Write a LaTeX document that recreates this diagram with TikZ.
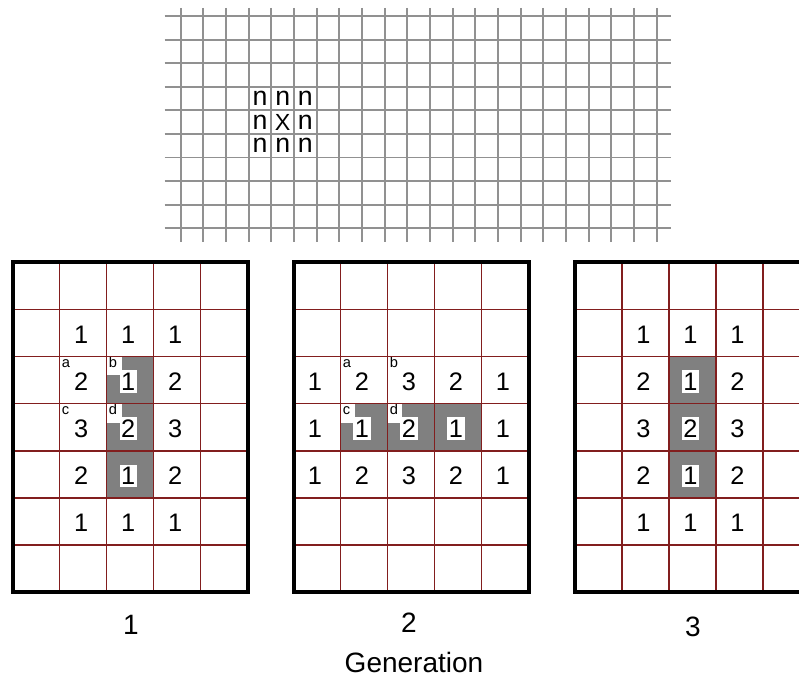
\documentclass[tikz,border=0pt]{standalone}
\usepackage{fontspec}
\setmainfont{Liberation Sans}
\definecolor{gridred}{RGB}{130,30,30}
\definecolor{topgray}{RGB}{145,145,145}
\definecolor{shadegray}{RGB}{128,128,128}
\tikzset{
  topline/.style={draw=topgray, line width=1.4pt},
  redline/.style={draw=gridred, line width=1.1pt},
  border/.style={draw=black, line width=3pt},
  nlet/.style={font=\fontsize{20}{22}\selectfont, inner sep=0pt},
  xlet/.style={font=\fontsize{17.5}{19}\selectfont, inner sep=0pt},
  dig/.style={font=\fontsize{19}{21}\selectfont, inner sep=0pt},
  wdig/.style={dig, fill=white, inner xsep=1.2pt, inner ysep=2pt},
  lett/.style={font=\fontsize{11}{12}\selectfont, fill=white, anchor=north west,
    text width=8pt, align=left, inner xsep=1.5pt, inner ysep=1.2pt,
    text height=7pt, text depth=4.5pt},
  lab/.style={font=\fontsize{21}{24}\selectfont, inner sep=0pt}
}
\newcommand\mydig[6]{\node[#6] (#5) at ({#1+47*(#3+0.5)-2},{262.3+47.14*(#2+0.5)+1.5}) {#4};}
\newcommand\mylet[5]{\node[lett] (#5) at ({#1+47*#3},{262.3+47.14*#2}) {#4};}
\begin{document}
\begin{tikzpicture}[x=0.75pt,y=-0.75pt]
\useasboundingbox (0,0) rectangle (799,677);
\clip (0,0) rectangle (799,677);
% top grid
\foreach \ii in {0,...,21} \draw[topline] ({180.7+22.667*\ii},8) -- ({180.7+22.667*\ii},241.7);
\foreach \jj in {0,...,9} \draw[topline] (164.7,{16+23.59*\jj}) -- (671,{16+23.59*\jj});
\foreach \rr/\cc in {0/0,0/1,0/2,1/0,1/2,2/0,2/1,2/2}
  \node[nlet] (n\rr\cc) at ({180.7+22.667*(\cc+3.5)},{16+23.59*(\rr+3.5)}) {n};
\node[xlet] (xcenter) at ({180.7+22.667*4.5},{16+23.59*4.5}) {X};
% shading
\fill[shadegray] ({12.7+47*2},{262.3+47.14*2}) rectangle ({12.7+47*3},{262.3+47.14*5});
\fill[shadegray] ({575+47*2},{262.3+47.14*2}) rectangle ({575+47*3},{262.3+47.14*5});
\fill[shadegray] ({293.5+47*1},{262.3+47.14*3}) rectangle ({293.5+47*4},{262.3+47.14*4});
% panel 1
\foreach \rr/\cc/\vv in {1/1/1,1/2/1,1/3/1,2/1/2,2/3/2,3/1/3,3/3/3,4/1/2,4/3/2,5/1/1,5/2/1,5/3/1}
  {\mydig{12.7}{\rr}{\cc}{\vv}{pa\rr\cc}{dig}}
\foreach \rr/\cc/\lw in {2/1/a,2/2/b,3/1/c,3/2/d}
  {\mylet{12.7}{\rr}{\cc}{\lw}{la\rr\cc}}
\foreach \rr/\cc/\vv in {2/2/1,3/2/2,4/2/1}
  {\mydig{12.7}{\rr}{\cc}{\vv}{pa\rr\cc}{wdig}}
% panel 2
\foreach \rr/\cc/\vv in {2/0/1,2/1/2,2/2/3,2/3/2,2/4/1,3/0/1,3/4/1,4/0/1,4/1/2,4/2/3,4/3/2,4/4/1}
  {\mydig{293.5}{\rr}{\cc}{\vv}{pb\rr\cc}{dig}}
\foreach \rr/\cc/\lw in {2/1/a,2/2/b,3/1/c,3/2/d}
  {\mylet{293.5}{\rr}{\cc}{\lw}{lb\rr\cc}}
\foreach \rr/\cc/\vv in {3/1/1,3/2/2,3/3/1}
  {\mydig{293.5}{\rr}{\cc}{\vv}{pb\rr\cc}{wdig}}
% panel 3
\foreach \rr/\cc/\vv in {1/1/1,1/2/1,1/3/1,2/1/2,2/3/2,3/1/3,3/3/3,4/1/2,4/3/2,5/1/1,5/2/1,5/3/1}
  {\mydig{575}{\rr}{\cc}{\vv}{pc\rr\cc}{dig}}
\foreach \rr/\cc/\vv in {2/2/1,3/2/2,4/2/1}
  {\mydig{575}{\rr}{\cc}{\vv}{pc\rr\cc}{wdig}}
% grid lines and borders
\foreach \pl in {12.7,293.5,575}{
  \foreach \ii in {1,...,4} \draw[redline] ({\pl+47*\ii},262.3) -- ({\pl+47*\ii},592.3);
  \foreach \jj in {1,...,6} \draw[redline] (\pl,{262.3+47.14*\jj}) -- ({\pl+235},{262.3+47.14*\jj});
  \draw[border] (\pl,262.3) rectangle ({\pl+235},592.3);
}
% labels
\node[lab] (g1) at (131,625) {1};
\node[lab] (g2) at (409,623) {2};
\node[lab] (g3) at (693,627) {3};
\node[lab] (gen) at (414,662) {Generation};
\end{tikzpicture}
\end{document}
